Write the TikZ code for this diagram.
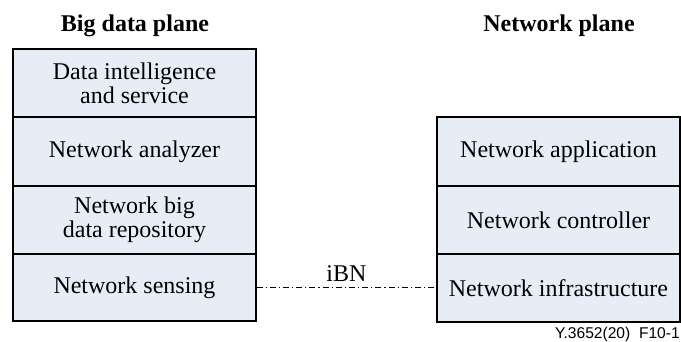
\documentclass[tikz,border=0pt]{standalone}
\usepackage{fontspec}
\setmainfont{Liberation Serif}
\newfontfamily\footfont{Liberation Sans}
\definecolor{layerfill}{RGB}{231,237,247}
\begin{document}
\begin{tikzpicture}[x=1pt,y=-1pt,
  layer/.style={draw=black, line width=1.2pt, fill=layerfill, minimum width=243pt, inner sep=0pt, align=center, font=\fontsize{24}{24}\selectfont},
  planetitle/.style={font=\bfseries\fontsize{24}{26}\selectfont, anchor=base, inner sep=0pt},
  link/.style={line width=1pt, dash pattern=on 6pt off 3pt on 1.2pt off 3pt}]
\useasboundingbox (0,0) rectangle (681,342);

% Big data plane stack
\node[planetitle] (bdtitle) at (135,31.5) {Big data plane};
\node[layer, minimum height=68pt] (dis) at (134.5,83) {Data intelligence\\and service};
\node[layer, minimum height=68.5pt] (na) at (134.5,151.5) {Network analyzer};
\node[layer, minimum height=68pt] (nbdr) at (134.5,220) {Network big\\data repository};
\node[layer, minimum height=67pt] (ns) at (134.5,287.5) {Network sensing};

% Network plane stack
\node[planetitle] (nptitle) at (559,31.5) {Network plane};
\node[layer, minimum height=69pt] (napp) at (558.5,151.5) {Network application};
\node[layer, minimum height=68pt] (nc) at (558.5,220) {Network controller};
\node[layer, minimum height=68pt] (ni) at (558.5,288) {Network infrastructure};

% Interface between the planes
\draw[link] (ns.east |- 0,287.7) -- node[above=2pt, font=\fontsize{24}{26}\selectfont] (ibn) {iBN} (ni.west |- 0,287.7);

% Figure reference
\node[anchor=base east, inner sep=0pt, font=\footfont\fontsize{15.6}{17}\selectfont] (ref) at (680,338.5) {Y.3652(20)\hspace{8.7pt}F10-1};
\end{tikzpicture}
\end{document}
